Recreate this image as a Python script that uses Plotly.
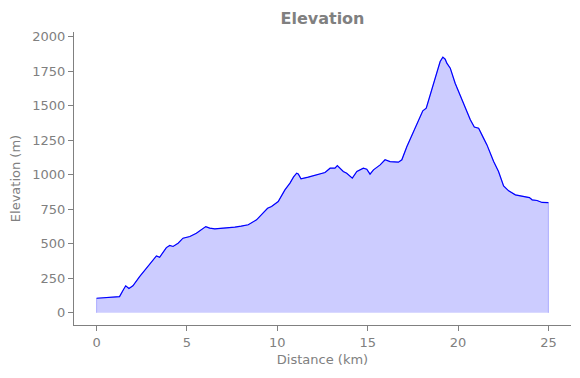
import plotly.graph_objects as go

distance_km = [0.0, 0.5, 1.0, 1.27, 1.45, 1.61, 1.79, 2.01, 2.38, 2.75, 3.12, 3.31, 3.49, 3.86, 4.05, 4.23,
               4.51, 4.78, 5.16, 5.52, 6.04, 6.26, 6.54, 7.1, 7.65, 8.0, 8.39, 8.85, 9.15, 9.46, 9.68,
               10.05, 10.42, 10.7, 10.9, 11.07, 11.16, 11.31, 11.71, 12.08, 12.36, 12.64, 12.92,
               13.19, 13.32, 13.65, 13.84, 14.15, 14.4, 14.76, 14.95, 15.13, 15.32, 15.69, 15.96,
               16.24, 16.7, 16.89, 17.17, 17.53, 17.81, 18.05, 18.24, 18.45, 18.64, 18.85, 19.01,
               19.16, 19.29, 19.38, 19.57, 19.84, 20.21, 20.45, 20.68, 20.9, 21.14, 21.41, 21.6,
               21.97, 22.24, 22.52, 22.8, 23.17, 23.73, 23.95, 24.1, 24.37, 24.65, 25.0]
elevation_m = [106, 110, 114, 118, 160, 196, 176, 196, 263, 324, 384, 413, 403, 473, 488, 481,
               505, 541, 553, 577, 625, 614, 609, 614, 621, 628, 638, 674, 712, 758, 770,
               807, 891, 940, 985, 1012, 1007, 971, 983, 995, 1005, 1017, 1048,
               1048, 1067, 1024, 1012, 976, 1024, 1048, 1041, 1005, 1036, 1072, 1109,
               1096, 1092, 1109, 1205, 1314, 1386, 1464, 1483, 1575, 1664, 1745, 1821,
               1853, 1838, 1809, 1773, 1664, 1543, 1470, 1399, 1346, 1338, 1266, 1217,
               1096, 1024, 920, 884, 855, 843, 835, 819, 814, 800, 799]

x_ticks = [0, 5, 10, 15, 20, 25]
y_ticks = [0, 250, 500, 750, 1000, 1250, 1500, 1750, 2000]

GRAY = "#808080"
fig = go.Figure()
fig.add_trace(go.Scatter(
    x=[distance_km[0]] + distance_km + [distance_km[-1]],
    y=[0] + elevation_m + [0],
    fill="toself", fillcolor="rgba(0,0,255,0.2)",
    line=dict(color="rgba(0,0,255,0.25)", width=1),
    mode="lines", hoverinfo="skip", showlegend=False))
fig.add_trace(go.Scatter(x=distance_km, y=elevation_m, mode="lines",
                         line=dict(color="#0000ff", width=1.2), showlegend=False))

fig.update_layout(
    width=580, height=378,
    margin=dict(l=74, r=9, t=32, b=53, autoexpand=False),
    paper_bgcolor="white", plot_bgcolor="white",
    font=dict(family="DejaVu Sans", size=13, color=GRAY),
    title=dict(text="<b>Elevation</b>", x=0.5, xanchor="center",
               xref="paper", yref="container", y=1 - 18 / 378, yanchor="middle",
               font=dict(size=16, color=GRAY)),
    xaxis=dict(range=[-1.25, 26.25], tickvals=x_ticks, showgrid=False, zeroline=False,
               showline=True, linecolor=GRAY, linewidth=1, ticks="outside", ticklen=5,
               tickcolor=GRAY, automargin=False, tickfont=dict(size=13),
               title=dict(text="Distance (km)", standoff=6, font=dict(size=13))),
    yaxis=dict(range=[-88, 2035], tickvals=y_ticks, showgrid=False, zeroline=False,
               showline=True, linecolor=GRAY, linewidth=1, ticks="outside", ticklen=5,
               tickcolor=GRAY, automargin=False, tickfont=dict(size=13),
               title=dict(text="Elevation (m)", standoff=8, font=dict(size=13))),
)
fig.write_html("out.html", config={"displayModeBar": False})
with open("out.html", encoding="utf-8") as f:
    html = f.read()
html = html.replace("<body>", '<body style="margin:0;padding:0;overflow:hidden">', 1)
with open("out.html", "w", encoding="utf-8") as f:
    f.write(html)
